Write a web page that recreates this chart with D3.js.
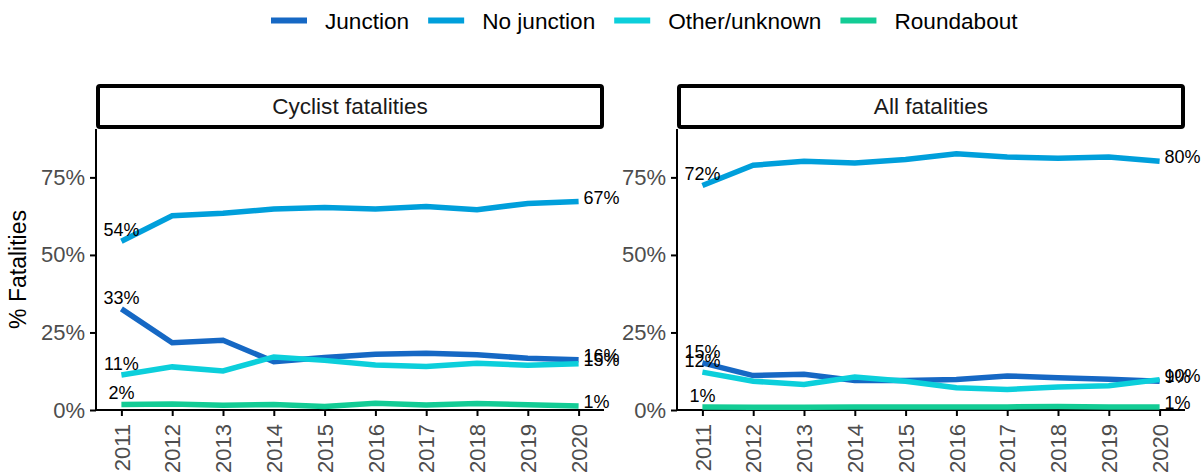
<!DOCTYPE html>
<html lang="en">

<head>
    <meta charset="UTF-8"/>
    <title>Fatalities by junction type</title>
    <script src="https://d3js.org/d3.v7.min.js" charset="utf-8"></script>

    <style type="text/css">
        body {
            margin: 0;
            background: #ffffff;
        }
        text {
            font-family: "Liberation Sans", Arial, sans-serif;
        }
        .axis path,
        .axis line {
            fill: none;
            stroke: black;
            stroke-width: 2px;
        }
        .axis text {
            fill: #4d4d4d;
            font-size: 22px;
        }
        path.line {
            fill: none;
            stroke-width: 5.5px;
        }
    </style>
</head>
<body>

<svg width="1204" height="476"></svg>

<script type="text/javascript">
    // data (percent of fatalities)
    var years = [2011, 2012, 2013, 2014, 2015, 2016, 2017, 2018, 2019, 2020];
    var categories = ["Junction", "No junction", "Other/unknown", "Roundabout"];
    var colors = ["#1668c4", "#009fdb", "#0ccfdb", "#13cc95"];
    var panels = ["Cyclist fatalities", "All fatalities"];
    var yTicks = [0, 0.25, 0.5, 0.75];

    var cyclistJunction = [32.6, 21.7, 22.5, 15.6, 16.9, 18.0, 18.3, 17.8, 16.7, 16.2];
    var cyclistNoJunction = [54.4, 62.6, 63.4, 64.8, 65.3, 64.8, 65.6, 64.6, 66.6, 67.2];
    var cyclistOther = [11.3, 13.9, 12.6, 17.1, 16.0, 14.5, 14.0, 15.1, 14.4, 14.9];
    var cyclistRoundabout = [1.8, 1.9, 1.5, 1.8, 1.1, 2.2, 1.6, 2.1, 1.7, 1.3];

    var allJunction = [15.2, 11.1, 11.5, 9.5, 9.5, 9.8, 11.0, 10.4, 9.9, 9.3];
    var allNoJunction = [72.4, 78.9, 80.2, 79.6, 80.8, 82.6, 81.6, 81.2, 81.6, 80.2];
    var allOther = [12.2, 9.3, 8.2, 10.6, 9.3, 7.2, 6.6, 7.4, 7.8, 9.8];
    var allRoundabout = [1.0, 0.9, 0.9, 1.0, 1.0, 1.0, 1.0, 1.1, 1.0, 1.0];

    var panelData = [
        [cyclistJunction, cyclistNoJunction, cyclistOther, cyclistRoundabout],
        [allJunction, allNoJunction, allOther, allRoundabout]
    ];

    var svg = d3.select("svg");
    var panelLeft = [96, 677],
        panelWidth = 508,
        stripTop = 84,
        plotTop = 129,
        plotBottom = 410;

    var color = d3.scaleOrdinal().domain(categories).range(colors);

    var y = d3.scaleLinear()
        .domain([0, 0.906])
        .range([plotBottom, plotTop]);

    // legend
    var legend = svg.append("g").attr("class", "legend");
    var lx = 271;
    categories.forEach(function(c) {
        legend.append("line")
            .attr("x1", lx).attr("x2", lx + 36)
            .attr("y1", 20.5).attr("y2", 20.5)
            .attr("stroke", color(c))
            .attr("stroke-width", 6);
        var t = legend.append("text")
            .attr("x", lx + 54)
            .attr("y", 21)
            .attr("dy", "0.35em")
            .style("font-size", "22.6px")
            .text(c);
        lx += 54 + t.node().getComputedTextLength() + 19;
    });

    // y axis title
    svg.append("text")
        .attr("transform", "translate(26," + (plotTop + plotBottom) / 2 + ") rotate(-90)")
        .style("text-anchor", "middle")
        .style("font-size", "23px")
        .text("% Fatalities");

    panels.forEach(function(name, p) {
        var x0 = panelLeft[p];
        var x = d3.scaleLinear()
            .domain([2010.5, 2020.5])
            .range([x0, x0 + panelWidth]);

        var g = svg.append("g");

        // strip
        g.append("rect")
            .attr("x", x0 + 2)
            .attr("y", stripTop + 2)
            .attr("width", panelWidth - 4)
            .attr("height", plotTop - stripTop - 4)
            .attr("rx", 2)
            .attr("fill", "white")
            .attr("stroke", "black")
            .attr("stroke-width", 4);
        g.append("text")
            .attr("x", x0 + panelWidth / 2)
            .attr("y", (stripTop + plotTop) / 2)
            .attr("dy", "0.35em")
            .style("text-anchor", "middle")
            .style("font-size", "22.6px")
            .style("fill", "#1a1a1a")
            .text(name);

        // axes
        g.append("g")
            .attr("class", "axis")
            .attr("transform", "translate(" + x0 + ",0)")
            .call(d3.axisLeft(y).tickValues(yTicks).tickSize(6).tickPadding(5)
                .tickFormat(d3.format(".0%")))
            .call(function(a) { a.select(".domain").attr("d", "M0," + plotTop + "V" + plotBottom); });

        g.append("g")
            .attr("class", "axis")
            .attr("transform", "translate(0," + plotBottom + ")")
            .call(d3.axisBottom(x).tickValues(years).tickSize(6).tickFormat(d3.format("d")))
            .call(function(a) { a.select(".domain").attr("d", "M" + x0 + ",0H" + (x0 + panelWidth)); })
            .selectAll("text")
            .attr("transform", "rotate(-90)")
            .attr("x", -14)
            .attr("y", 0)
            .attr("dy", "0.35em")
            .style("text-anchor", "end");

        var line = d3.line()
            .x(function(d, i) { return x(years[i]); })
            .y(function(d) { return y(d / 100); });

        panelData[p].forEach(function(vals, k) {
            g.append("path")
                .attr("class", "line")
                .attr("d", line(vals))
                .attr("stroke", color(categories[k]));
        });

        // labels at the first and last year
        panelData[p].forEach(function(vals) {
            g.append("text")
                .attr("x", x(years[0]))
                .attr("y", y(vals[0] / 100) - 5)
                .style("text-anchor", "middle")
                .style("font-size", "18px")
                .text(Math.round(vals[0]) + "%");
            var n = vals.length - 1;
            g.append("text")
                .attr("x", x(years[n]) + 5)
                .attr("y", y(vals[n] / 100) + 2)
                .style("text-anchor", "start")
                .style("font-size", "18px")
                .text(Math.round(vals[n]) + "%");
        });
    });
</script>
</body>
</html>
